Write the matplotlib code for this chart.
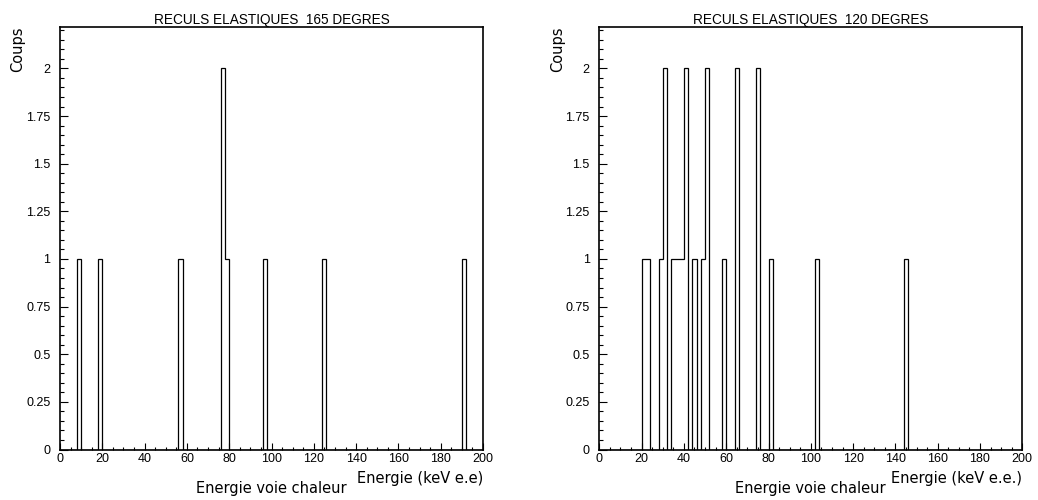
import numpy as np
import matplotlib
matplotlib.use("Agg")
import matplotlib.pyplot as plt
from matplotlib.ticker import MultipleLocator, FuncFormatter

# ---- data (bin centres in keV, counts per 2 keV bin) ----
bin_edges = np.arange(0, 202, 2)

left_title = "RECULS ELASTIQUES  165 DEGRES"
left_energy = [9, 19, 57, 77, 79, 97, 125, 191]
left_counts = [1, 1, 1, 2, 1, 1, 1, 1]
left_xlabel = "Energie (keV e.e)"

right_title = "RECULS ELASTIQUES  120 DEGRES"
right_energy = [21, 23, 29, 31, 35, 37, 39, 41, 45, 49, 51, 59, 65, 75, 81, 103, 145]
right_counts = [1, 1, 1, 2, 1, 1, 1, 2, 1, 1, 2, 1, 2, 2, 1, 1, 1]
right_xlabel = "Energie (keV e.e.)"

ylabel = "Coups"
sublabel = "Energie voie chaleur"

plt.rcParams['font.family'] = ['Liberation Sans', 'DejaVu Sans']

W, H = 1038, 500
fig = plt.figure(figsize=(W / 100, H / 100), dpi=100)

def px(x0, y0, x1, y1):
    return [x0 / W, 1 - y1 / H, (x1 - x0) / W, (y1 - y0) / H]

panels = [
    (px(60, 26.5, 483, 449.5), left_title, left_energy, left_counts, left_xlabel, 18),
    (px(599.3, 26.5, 1022.3, 449.5), right_title, right_energy, right_counts, right_xlabel, 558),
]

lab_font = dict(family=['DejaVu Sans'], fontsize=10.5)

for rect, title, energy, counts, xlab, ylab_x in panels:
    ax = fig.add_axes(rect)
    ax.hist(energy, bins=bin_edges, weights=counts, histtype='step',
            color='black', linewidth=0.9)
    ax.set_xlim(0, 200)
    ax.set_ylim(0, 2.22)
    for s in ax.spines.values():
        s.set_linewidth(1.2)
    ax.xaxis.set_major_locator(MultipleLocator(20))
    ax.xaxis.set_minor_locator(MultipleLocator(5))
    ax.yaxis.set_major_locator(MultipleLocator(0.25))
    ax.yaxis.set_minor_locator(MultipleLocator(0.05))
    ax.yaxis.set_major_formatter(FuncFormatter(lambda v, p: "%g" % v))
    ax.tick_params(axis='x', which='major', direction='in', length=5, width=0.8,
                   labelsize=9, pad=2.5, top=False)
    ax.tick_params(axis='x', which='minor', direction='in', length=2.5, width=0.8, top=False)
    ax.tick_params(axis='y', which='major', direction='in', length=5.8, width=0.8,
                   labelsize=9, pad=7, right=False)
    ax.tick_params(axis='y', which='minor', direction='in', length=2.9, width=0.8, right=False)
    ax.set_title(title, fontsize=9.8, pad=2)
    x1 = rect[0] + rect[2]
    fig.text(x1, 1 - 483 / H, xlab, ha='right', va='baseline', **lab_font)
    fig.text(rect[0] + rect[2] / 2, 1 - 493.5 / H, sublabel, ha='center',
             va='baseline', **lab_font)
    fig.text(ylab_x / W, 1 - 27 / H, ylabel, rotation=90, ha='center', va='top',
             family=['DejaVu Sans'], fontsize=10.5)

fig.savefig("out.png", dpi=100)
